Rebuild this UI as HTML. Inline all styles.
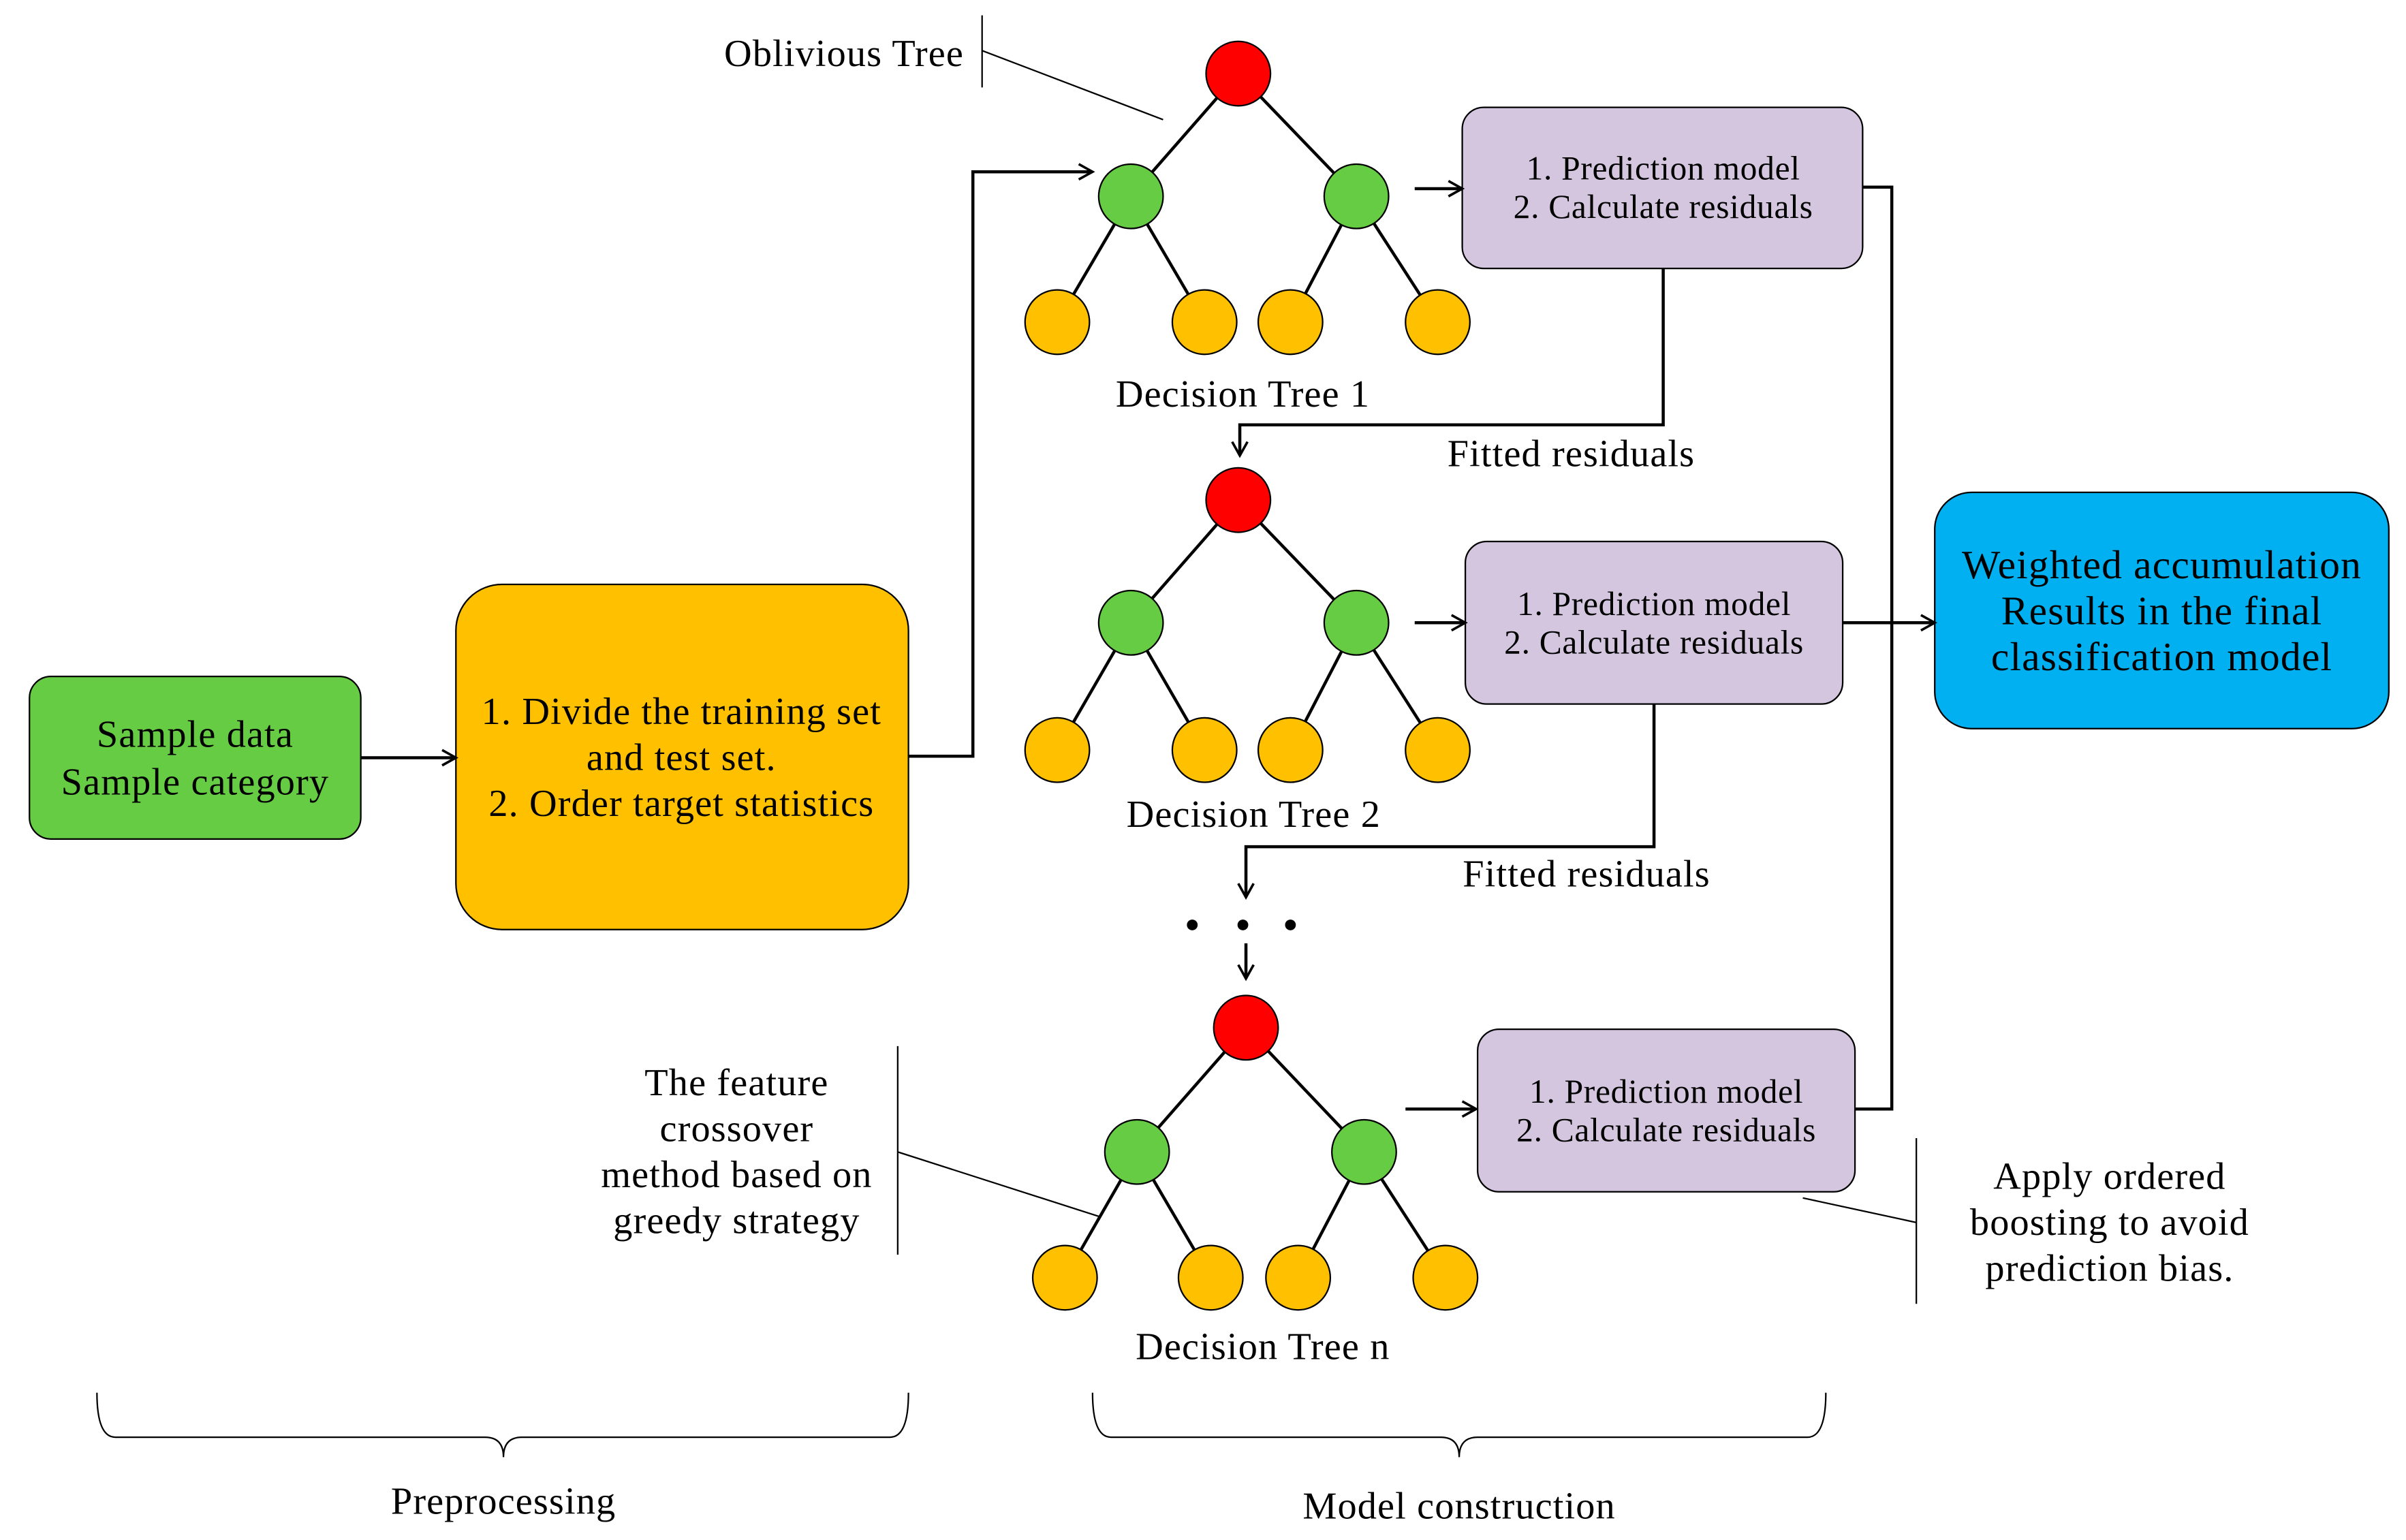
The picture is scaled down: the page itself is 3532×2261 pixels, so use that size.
<!DOCTYPE html>
<html><head><meta charset="utf-8"><style>html,body{margin:0;padding:0;background:#fff}svg{display:block}</style></head>
<body>
<svg width="3532" height="2261" viewBox="0 0 1568 1004" xmlns="http://www.w3.org/2000/svg" font-family="Liberation Serif, serif">
<defs>
<marker id="a" markerWidth="12" markerHeight="12" refX="10" refY="6" orient="auto" markerUnits="userSpaceOnUse">
<path d="M1,1 L10,6 L1,11" fill="none" stroke="#000" stroke-width="1.6"/>
</marker>
</defs>
<rect width="1568" height="1004" fill="#fff"/>
<g stroke="#000" stroke-width="2" fill="none">
<path d="M807,48 L737,128 M807,48 L884,128 M737,128 L689,210 M737,128 L785,210 M884,128 L841,210 M884,128 L937,210"/>
<path d="M807,326 L737,406 M807,326 L884,406 M737,406 L689,489 M737,406 L785,489 M884,406 L841,489 M884,406 L937,489"/>
<path d="M812,670 L741,751 M812,670 L889,751 M741,751 L694,833 M741,751 L789,833 M889,751 L846,833 M889,751 L942,833"/>
</g>
<g stroke="#000" stroke-width="1">
<circle cx="807" cy="48" r="21" fill="#ff0000"/>
<circle cx="737" cy="128" r="21" fill="#66cc44"/><circle cx="884" cy="128" r="21" fill="#66cc44"/>
<circle cx="689" cy="210" r="21" fill="#ffc000"/><circle cx="785" cy="210" r="21" fill="#ffc000"/><circle cx="841" cy="210" r="21" fill="#ffc000"/><circle cx="937" cy="210" r="21" fill="#ffc000"/>
<circle cx="807" cy="326" r="21" fill="#ff0000"/>
<circle cx="737" cy="406" r="21" fill="#66cc44"/><circle cx="884" cy="406" r="21" fill="#66cc44"/>
<circle cx="689" cy="489" r="21" fill="#ffc000"/><circle cx="785" cy="489" r="21" fill="#ffc000"/><circle cx="841" cy="489" r="21" fill="#ffc000"/><circle cx="937" cy="489" r="21" fill="#ffc000"/>
<circle cx="812" cy="670" r="21" fill="#ff0000"/>
<circle cx="741" cy="751" r="21" fill="#66cc44"/><circle cx="889" cy="751" r="21" fill="#66cc44"/>
<circle cx="694" cy="833" r="21" fill="#ffc000"/><circle cx="789" cy="833" r="21" fill="#ffc000"/><circle cx="846" cy="833" r="21" fill="#ffc000"/><circle cx="942" cy="833" r="21" fill="#ffc000"/>
<rect x="953" y="70" width="261" height="105" rx="14" fill="#d5c6df"/>
<rect x="955" y="353" width="246" height="106" rx="14" fill="#d5c6df"/>
<rect x="963" y="671" width="246" height="106" rx="14" fill="#d5c6df"/>
<rect x="1261" y="321" width="296" height="154" rx="24" fill="#00b0f0"/>
<rect x="19" y="441" width="216" height="106" rx="14" fill="#66cc44"/>
<rect x="297" y="381" width="295" height="225" rx="30" fill="#ffc000"/>
</g>
<g stroke="#000" stroke-width="2" fill="none">
<path d="M235,494 L297,494" marker-end="url(#a)"/>
<path d="M592,493 L634,493 L634,112 L712,112" marker-end="url(#a)"/>
<path d="M922,123 L953,123" marker-end="url(#a)"/>
<path d="M922,406 L955,406" marker-end="url(#a)"/>
<path d="M916,723 L962,723" marker-end="url(#a)"/>
<path d="M1214,122 L1233,122 L1233,723 L1209,723"/>
<path d="M1201,406 L1261,406" marker-end="url(#a)"/>
<path d="M1084,175 L1084,277 L808,277 L808,297" marker-end="url(#a)"/>
<path d="M1078,459 L1078,552 L812,552 L812,585" marker-end="url(#a)"/>
<path d="M812,615 L812,638" marker-end="url(#a)"/>
</g>
<circle cx="777" cy="603" r="3.5"/><circle cx="810" cy="603" r="3.5"/><circle cx="841" cy="603" r="3.5"/>
<g stroke="#000" stroke-width="1" fill="none">
<path d="M640,10 L640,57 M640,33 L758,78"/>
<path d="M585,682 L585,818 M585,751 L716,793"/>
<path d="M1249,742 L1249,850 M1249,797 L1175,781"/>
<path d="M63,908 Q63,937 75,937 L316,937 Q328,937 328,950 Q328,937 340,937 L580,937 Q592,937 592,908"/>
<path d="M712,908 Q712,937 724,937 L939,937 Q951,937 951,950 Q951,937 963,937 L1178,937 Q1190,937 1190,908"/>
</g>
<g font-size="25" letter-spacing="0.5" text-anchor="middle" fill="#000">
<text x="550" y="43">Oblivious Tree</text>
<text x="810" y="265">Decision Tree 1</text>
<text x="817" y="539">Decision Tree 2</text>
<text x="823" y="886">Decision Tree n</text>
<text x="1024" y="304">Fitted residuals</text>
<text x="1034" y="578">Fitted residuals</text>
<text x="480" y="714">The feature</text>
<text x="480" y="744">crossover</text>
<text x="480" y="774">method based on</text>
<text x="480" y="804">greedy strategy</text>
<text x="1375" y="775">Apply ordered</text>
<text x="1375" y="805">boosting to avoid</text>
<text x="1375" y="835">prediction bias.</text>
<text x="328" y="987">Preprocessing</text>
<text x="951" y="990">Model construction</text>
<text x="127" y="487">Sample data</text>
<text x="127" y="518">Sample category</text>
<text x="444" y="472">1. Divide the training set</text>
<text x="444" y="502">and test set.</text>
<text x="444" y="532">2. Order target statistics</text>
<text x="1409" y="377" font-size="26.5">Weighted accumulation</text>
<text x="1409" y="407" font-size="26.5">Results in the final</text>
<text x="1409" y="437" font-size="26.5">classification model</text>
</g>
<g font-size="22" letter-spacing="0.3" text-anchor="middle" fill="#000">
<text x="1084" y="117">1. Prediction model</text>
<text x="1084" y="142">2. Calculate residuals</text>
<text x="1078" y="401">1. Prediction model</text>
<text x="1078" y="426">2. Calculate residuals</text>
<text x="1086" y="719">1. Prediction model</text>
<text x="1086" y="744">2. Calculate residuals</text>
</g>
</svg>
</body></html>
